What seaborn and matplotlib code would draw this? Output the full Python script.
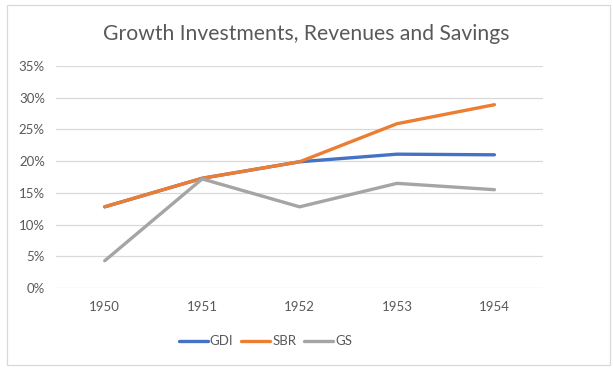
import pandas as pd
import matplotlib.pyplot as plt
import seaborn as sns
from matplotlib.ticker import PercentFormatter
from matplotlib.patches import Rectangle

# datos
years = ['1950', '1951', '1952', '1953', '1954']
gdi = [0.128, 0.173, 0.199, 0.211, 0.210]
sbr = [0.128, 0.173, 0.199, 0.259, 0.289]
gs = [0.043, 0.172, 0.128, 0.165, 0.155]
series = ['GDI', 'SBR', 'GS']
colors = ['#4472C4', '#ED7D31', '#A5A5A5']

df = pd.DataFrame({'year': years * 3,
                   'value': gdi + sbr + gs,
                   'serie': [s for s in series for _ in years]})

sns.set_style('white')
plt.rcParams['font.family'] = ['Lato', 'DejaVu Sans']

fig = plt.figure(figsize=(6.13, 3.70), dpi=100)
ax = fig.add_axes([0.0914, 0.2216, 0.7946, 0.60])

sns.lineplot(data=df, x='year', y='value', hue='serie', hue_order=series,
             palette=colors, linewidth=2.4, ax=ax, sort=False,
             solid_capstyle='round')

ax.set_xlim(-0.5, 4.5)
ax.set_ylim(0, 0.35)
ax.set_yticks([i * 0.05 for i in range(8)])
ax.yaxis.set_major_formatter(PercentFormatter(1.0, decimals=0))
ax.grid(axis='y', color='#D9D9D9', linewidth=0.9)
ax.set_axisbelow(True)
for s in ax.spines.values():
    s.set_visible(False)
ax.tick_params(axis='both', length=0, labelsize=9.5, labelcolor='#595959')
ax.tick_params(axis='x', pad=9)
ax.tick_params(axis='y', pad=8)
ax.set_xlabel('')
ax.set_ylabel('')

fig.suptitle('Growth Investments, Revenues and Savings', y=0.935,
             fontsize=15.2, color='#595959')

# leyenda abajo, algo desplazada a la izquierda como en el original
handles, labels = ax.get_legend_handles_labels()
ax.legend(handles, labels, loc='center', bbox_to_anchor=(0.43, -0.24),
          ncol=3, frameon=False, fontsize=9.5, labelcolor='#595959',
          handlelength=2.2, handletextpad=0.15, columnspacing=0.6)

fig.patches.append(Rectangle((7 / 613, 5 / 370), 603 / 613, 360 / 370,
                             transform=fig.transFigure, fill=False,
                             edgecolor='#D9D9D9', linewidth=0.9))

plt.savefig('out.png', dpi=100)
